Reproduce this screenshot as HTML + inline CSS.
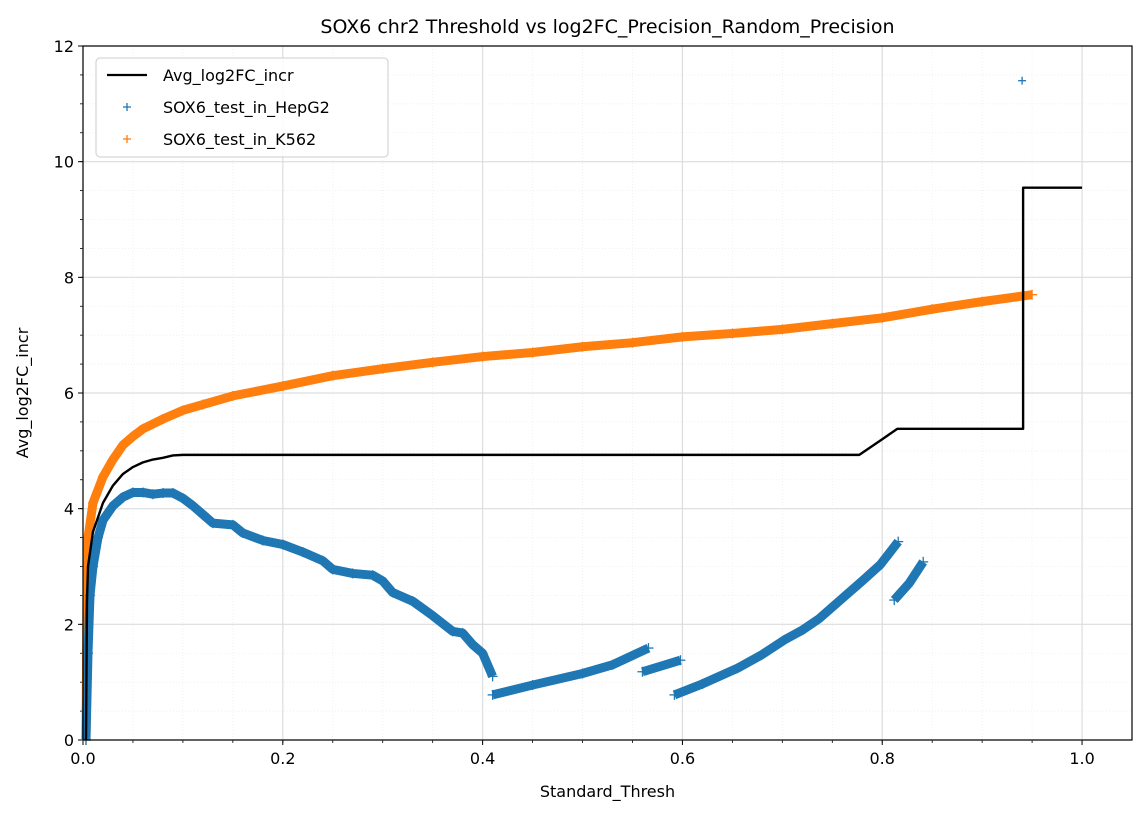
<!DOCTYPE html>
<html><head><meta charset="utf-8"><style>
html,body{margin:0;padding:0;background:#fff;}
svg{display:block;font-family:"DejaVu Sans","Liberation Sans",sans-serif;}
</style></head><body>
<svg id="chart" width="1146" height="818"></svg>
<script>
const xTicks=[0,0.2,0.4,0.6,0.8,1.0];
const xTickLabels=["0.0","0.2","0.4","0.6","0.8","1.0"];
const yTicks=[0,2,4,6,8,10,12];
const yTickLabels=["0","2","4","6","8","10","12"];
const avgX=[0.003,0.004,0.005,0.01,0.02,0.03,0.04,0.05,0.06,0.07,0.08,0.09,0.1,0.777,0.8,0.815,0.941,0.941,1.0];
const avgY=[0,2.4,3.0,3.6,4.1,4.4,4.6,4.72,4.8,4.85,4.88,4.92,4.93,4.93,5.2,5.38,5.38,9.55,9.55];
const k562X=[0.003,0.004,0.005,0.01,0.02,0.03,0.04,0.05,0.06,0.08,0.1,0.12,0.15,0.2,0.25,0.3,0.35,0.4,0.45,0.5,0.55,0.6,0.65,0.7,0.75,0.8,0.85,0.9,0.95];
const k562Y=[0,2.5,3.5,4.1,4.55,4.85,5.1,5.25,5.38,5.55,5.7,5.8,5.95,6.12,6.3,6.42,6.53,6.63,6.7,6.8,6.87,6.97,7.03,7.1,7.2,7.3,7.45,7.58,7.7];
const hepSegX=[
 [0.003,0.005,0.007,0.01,0.015,0.02,0.03,0.04,0.05,0.06,0.07,0.08,0.09,0.1,0.11,0.12,0.13,0.15,0.16,0.18,0.2,0.22,0.24,0.25,0.27,0.29,0.3,0.31,0.33,0.35,0.37,0.38,0.39,0.4,0.41],
 [0.41,0.45,0.5,0.53,0.566],
 [0.56,0.598],
 [0.592,0.62,0.655,0.68,0.702,0.72,0.737,0.762,0.78,0.798,0.816],
 [0.812,0.827,0.841]];
const hepSegY=[
 [0,1.5,2.5,3.0,3.5,3.8,4.05,4.2,4.28,4.28,4.25,4.27,4.27,4.18,4.05,3.9,3.75,3.72,3.58,3.45,3.38,3.25,3.1,2.95,2.88,2.85,2.75,2.55,2.4,2.15,1.88,1.85,1.65,1.5,1.1],
 [0.78,0.95,1.15,1.3,1.59],
 [1.18,1.38],
 [0.78,0.97,1.24,1.48,1.73,1.9,2.1,2.48,2.75,3.03,3.43],
 [2.42,2.71,3.08]];
const outlierX=[0.94], outlierY=[11.4];

const L=83,R=1132,T=46,B=740,XMAX=1.05,YMAX=12;
const sx=v=>L+v/XMAX*(R-L), sy=v=>B-v/YMAX*(B-T);
const svg=document.getElementById('chart');const NS='http://www.w3.org/2000/svg';
function mk(tag,attrs,parent){const e=document.createElementNS(NS,tag);for(const k in attrs)e.setAttribute(k,attrs[k]);(parent||svg).appendChild(e);return e;}
const g0=mk('g',{});


for(let i=1;i<21;i++){const x=sx(i*0.05);mk('line',{x1:x,x2:x,y1:T,y2:B,stroke:'#eee','stroke-dasharray':'1,2','stroke-width':0.8},g0);mk('line',{x1:x,x2:x,y1:B,y2:B+3,stroke:'#000','stroke-width':0.8},g0);}
for(let i=1;i<24;i++){const y=sy(i*0.5);mk('line',{x1:L,x2:R,y1:y,y2:y,stroke:'#eee','stroke-dasharray':'1,2','stroke-width':0.8},g0);mk('line',{x1:L-3,x2:L,y1:y,y2:y,stroke:'#000','stroke-width':0.8},g0);}
xTicks.forEach((v,i)=>{const x=sx(v);
 const l=mk('line',{x1:x,x2:x,y1:T,y2:B,stroke:'#ddd','stroke-width':1.2});
 
 
 mk('line',{x1:x,x2:x,y1:B,y2:B+5,stroke:'#000','stroke-width':1});
 const t=mk('text',{x:x,y:B+24,'text-anchor':'middle','font-size':16});t.textContent=xTickLabels[i];
 
 });
yTicks.forEach((v,i)=>{const y=sy(v);
 const l=mk('line',{x1:L,x2:R,y1:y,y2:y,stroke:'#ddd','stroke-width':1.2});
 
 
 mk('line',{x1:L-5,x2:L,y1:y,y2:y,stroke:'#000','stroke-width':1});
 const t=mk('text',{x:L-9,y:y+6,'text-anchor':'end','font-size':16});t.textContent=yTickLabels[i];
 
 });
function pts(xs,ys){return xs.map((v,i)=>sx(v)+','+sy(ys[i])).join(' ');}
function plus(x,y,c,g,s){mk('line',{x1:x-s,x2:x+s,y1:y,y2:y,stroke:c,'stroke-width':1.3},g);mk('line',{x1:x,x2:x,y1:y-s,y2:y+s,stroke:c,'stroke-width':1.3},g);}
const gk=mk('g',{});


mk('polyline',{points:pts(k562X,k562Y),fill:'none',stroke:'#ff7f0e','stroke-width':9,'stroke-linejoin':'round'},gk);
k562X.forEach((v,i)=>plus(sx(v),sy(k562Y[i]),'#ff7f0e',gk,5));
const gh=mk('g',{});


hepSegX.forEach((xs,j)=>{const ys=hepSegY[j];
 mk('polyline',{points:pts(xs,ys),fill:'none',stroke:'#1f77b4','stroke-width':9,'stroke-linejoin':'round'},gh);
 xs.forEach((v,i)=>plus(sx(v),sy(ys[i]),'#1f77b4',gh,5));});
outlierX.forEach((v,i)=>plus(sx(v),sy(outlierY[i]),'#1f77b4',gh,4));
const al=mk('polyline',{points:pts(avgX,avgY),fill:'none',stroke:'#000','stroke-width':2.4,'stroke-linejoin':'round'});


const fr=mk('rect',{x:L,y:T,width:R-L,height:B-T,fill:'none',stroke:'#000','stroke-width':1.2});


const tt=mk('text',{x:(L+R)/2,y:33,'text-anchor':'middle','font-size':19});tt.textContent='SOX6 chr2 Threshold vs log2FC_Precision_Random_Precision';


const xt=mk('text',{x:(L+R)/2,y:797,'text-anchor':'middle','font-size':16});xt.textContent='Standard_Thresh';


const yt=mk('text',{x:0,y:0,'text-anchor':'middle','font-size':16,transform:'translate(28,'+((T+B)/2)+') rotate(-90)'});yt.textContent='Avg_log2FC_incr';


const lg=mk('g',{});


mk('rect',{x:96,y:58,width:292,height:99,rx:4,fill:'#fff','fill-opacity':0.85,stroke:'#ccc'},lg);
mk('line',{x1:107,x2:147,y1:75,y2:75,stroke:'#000','stroke-width':2.2},lg);
plus(127,107,'#1f77b4',lg,4);plus(127,139,'#ff7f0e',lg,4);
[['Avg_log2FC_incr',81],['SOX6_test_in_HepG2',113],['SOX6_test_in_K562',145]].forEach(([s,y])=>{const t=mk('text',{x:163,y:y,'font-size':16},lg);t.textContent=s;
 
 });
</script>
</body></html>
